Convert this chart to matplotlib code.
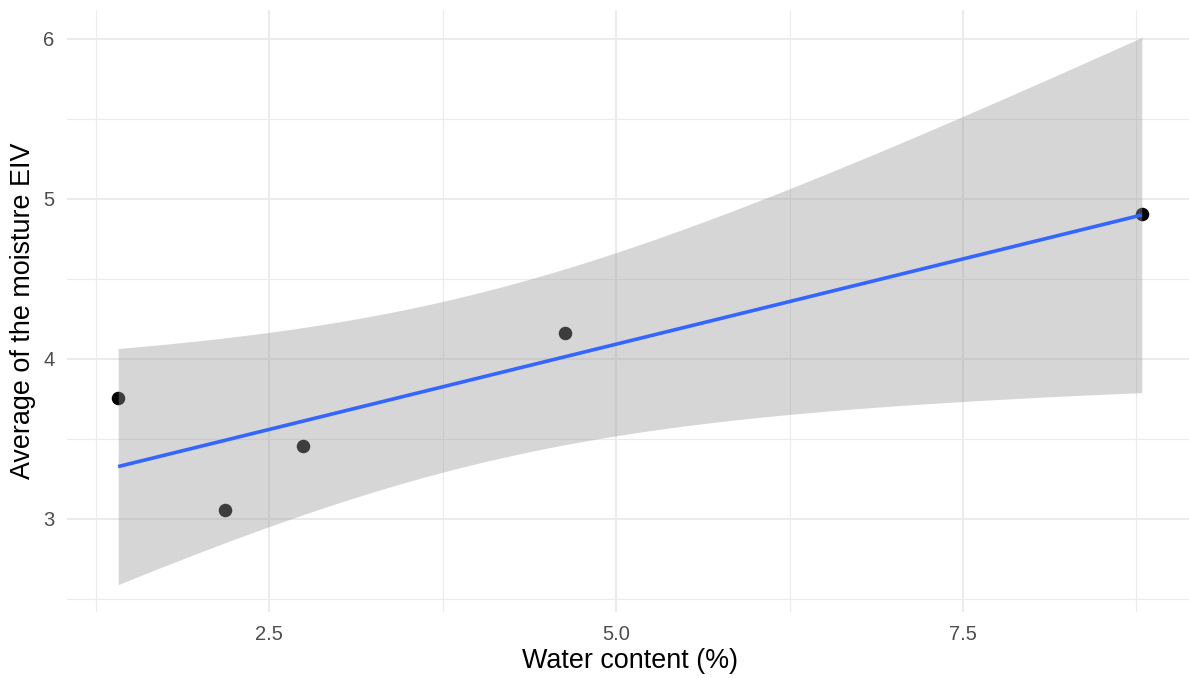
import numpy as np
import matplotlib.pyplot as plt
from matplotlib.ticker import MultipleLocator

# data
water_content = [1.41, 2.18, 2.74, 4.63, 8.79]
moisture_eiv = [3.756, 3.056, 3.456, 4.162, 4.906]

x_label = 'Water content (%)'
y_label = 'Average of the moisture EIV'

x = np.array(water_content)
y = np.array(moisture_eiv)

# lm fit + 95% confidence band, like geom_smooth(method = "lm")
n = len(x)
slope, intercept = np.polyfit(x, y, 1)
resid = y - (intercept + slope * x)
s = np.sqrt(np.sum(resid ** 2) / (n - 2))
t_crit = 3.182446  # qt(0.975, df = 3)
xs = np.linspace(x.min(), x.max(), 80)
fit = intercept + slope * xs
se = s * np.sqrt(1 / n + (xs - x.mean()) ** 2 / np.sum((x - x.mean()) ** 2))
lower = fit - t_crit * se
upper = fit + t_crit * se

plt.rcParams['font.family'] = ['Liberation Sans', 'DejaVu Sans']

fig = plt.figure(figsize=(11.89, 6.78), dpi=100)
ax = fig.add_axes([67 / 1189, 66 / 678, (1193 - 67) / 1189, (612 - 10) / 678])

ax.scatter(x, y, s=95, color='black', zorder=2, linewidths=0)
ax.fill_between(xs, lower, upper, color='#999999', alpha=0.4, linewidth=0, zorder=3)
ax.plot(xs, fit, color='#3366FF', lw=2.6, zorder=4, solid_capstyle='butt')

# ggplot-style 5% expansion
xr = x.max() - x.min()
ax.set_xlim(x.min() - 0.05 * xr, x.max() + 0.05 * xr)
ylo, yhi = min(y.min(), lower.min()), max(y.max(), upper.max())
yr = yhi - ylo
ax.set_ylim(ylo - 0.05 * yr, yhi + 0.05 * yr)

ax.xaxis.set_major_locator(MultipleLocator(2.5))
ax.xaxis.set_minor_locator(MultipleLocator(1.25))
ax.yaxis.set_major_locator(MultipleLocator(1))
ax.yaxis.set_minor_locator(MultipleLocator(0.5))
ax.xaxis.set_major_formatter(lambda v, p: f'{v:.1f}')
ax.yaxis.set_major_formatter(lambda v, p: f'{v:.0f}')

ax.grid(which='major', color='#ebebeb', lw=1.5, zorder=0)
ax.grid(which='minor', color='#ebebeb', lw=0.8, zorder=0)
ax.set_axisbelow(True)
for sp in ax.spines.values():
    sp.set_visible(False)
ax.tick_params(which='both', length=0)
ax.tick_params(axis='x', labelsize=14.5, labelcolor='#4d4d4d', pad=9)
ax.tick_params(axis='y', labelsize=14.5, labelcolor='#4d4d4d', pad=9)

ax.set_xlabel(x_label, fontsize=19.4, labelpad=3)
ax.set_ylabel(y_label, fontsize=19.4, labelpad=5)

fig.savefig('out.png', dpi=100)
